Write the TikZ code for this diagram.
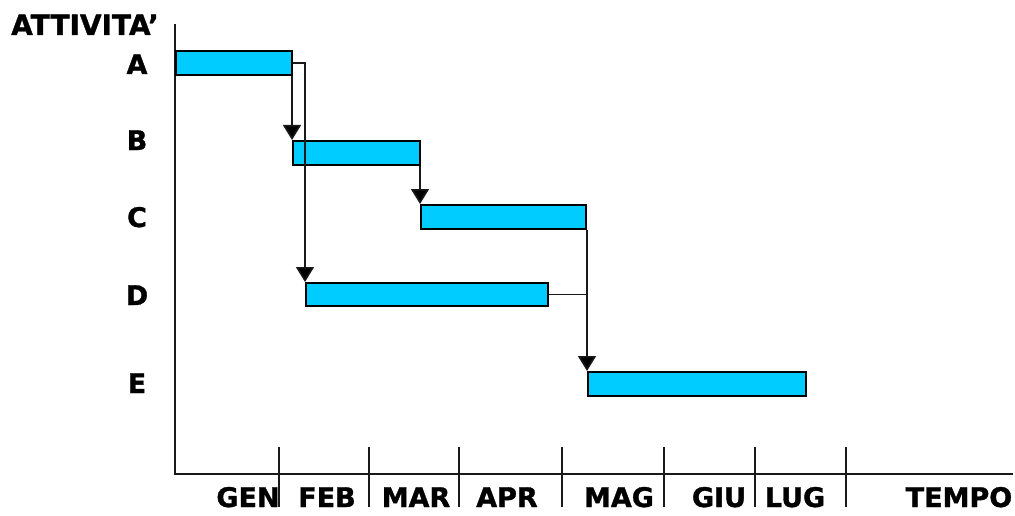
\documentclass[tikz,border=0pt]{standalone}
\usepackage{fontspec}
\setmainfont{DejaVu Sans}[BoldFeatures={FakeBold=1.2}]
\usetikzlibrary{arrows.meta,calc}
\definecolor{barcyan}{HTML}{00CCFF}
\tikzset{
  bar/.style={draw=black, fill=barcyan, line width=1.8pt, rectangle, inner sep=0pt, anchor=north west},
  conn/.style={draw=black!90, line width=1.6pt},
  arr/.style={conn, -{Triangle[length=15pt,width=18pt,fill=black]}},
  axis/.style={draw=black!90, line width=1.6pt},
  lbl/.style={font=\bfseries\fontsize{27}{30}\selectfont, inner sep=0pt, anchor=base},
}
\begin{document}
\begin{tikzpicture}[x=1pt,y=-1pt]
\useasboundingbox (0,0) rectangle (1015,516);
% axes
\coordinate (ytop) at (175,24);
\coordinate (origin) at (175,474);
\coordinate (xend) at (1013,474);
\draw[axis] (ytop) -- (origin) -- (xend);
\foreach \x in {279,369,459,562,664,755,846}
  \draw[axis] (\x,447) -- (\x,507);
% title
\node[font=\bfseries\fontsize{28}{32}\selectfont, inner sep=0pt, anchor=base west] (title) at (11,35) {ATTIVITA’};
% row labels
\node[lbl] (la) at (137,74) {A};
\node[lbl] (lb) at (137,150) {B};
\node[lbl] (lc) at (137,227) {C};
\node[lbl] (ld) at (137,305) {D};
\node[lbl] (le) at (137,393) {E};
% month labels
\node[lbl] (gen) at (248,507) {GEN};
\node[lbl] (feb) at (327,507) {FEB};
\node[lbl] (mar) at (416,507) {MAR};
\node[lbl] (apr) at (507,507) {APR};
\node[lbl] (mag) at (619,507) {MAG};
\node[lbl] (giu) at (719,507) {GIU};
\node[lbl] (lug) at (795,507) {LUG};
\node[lbl] (tempo) at (959,507) {TEMPO};
% bars
\node[bar, minimum width=116pt, minimum height=24pt] (barA) at (175,50) {};
\node[bar, minimum width=127pt, minimum height=24pt] (barB) at (292,140) {};
\node[bar, minimum width=165pt, minimum height=24pt] (barC) at (420,204) {};
\node[bar, minimum width=242pt, minimum height=23pt] (barD) at (305,282) {};
\node[bar, minimum width=218pt, minimum height=24pt] (barE) at (587,371) {};
% connectors
\draw[arr] (barB.north west |- barA.south) -- (barB.north west);
\draw[arr] (barA.east) -| (barD.north west);
\draw[arr] (barC.north west |- barB.south) -- (barC.north west);
\draw[arr] (barE.north west |- barC.south) -- (barE.north west);
\draw[conn] (barD.east) -- (barD.east -| barE.west);
\end{tikzpicture}
\end{document}
